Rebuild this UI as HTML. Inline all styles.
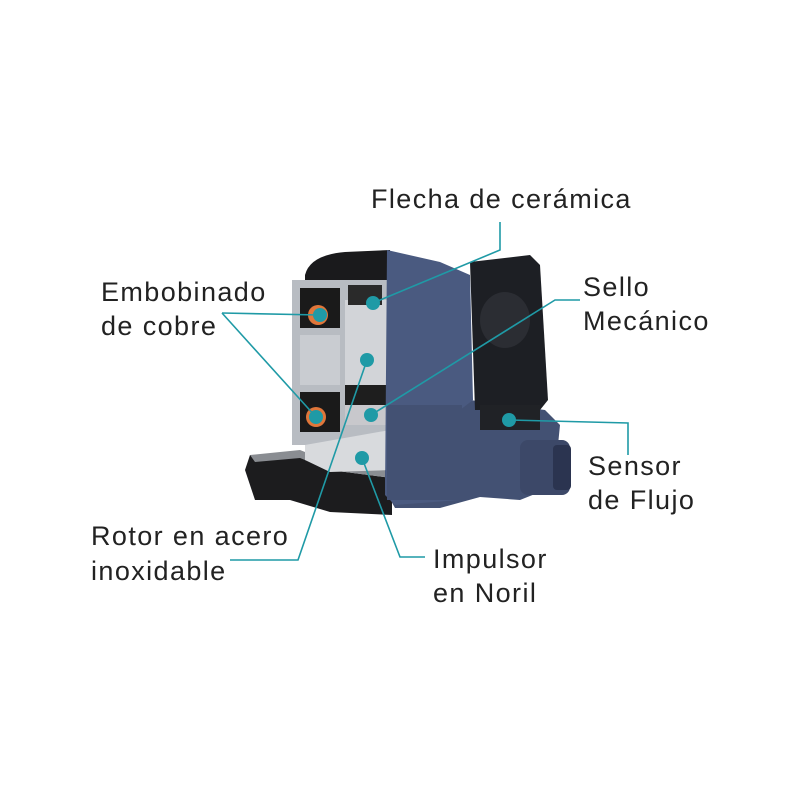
<!DOCTYPE html>
<html><head><meta charset="utf-8"><style>
html,body{margin:0;padding:0;background:#fff;}
svg{display:block}
text{font-family:"Liberation Sans",sans-serif;font-size:27px;fill:#222;letter-spacing:1.4px;}
</style></head><body>
<svg width="800" height="800" viewBox="0 0 800 800">
<!-- black pipe bottom-left -->
<path d="M250 455 L300 455 L330 470 L392 478 L392 515 L330 512 L290 500 L255 500 L245 470 Z" fill="#1c1c1e"/>
<path d="M250 455 L300 450 L330 462 L392 470 L392 478 L330 470 L300 458 L255 462 Z" fill="#8a8d92"/>
<!-- blue bottom housing -->
<path d="M385 405 L470 400 L545 410 L560 425 L558 445 L545 450 L545 490 L520 500 L480 497 L440 508 L395 508 L385 490 Z" fill="#435173"/>
<rect x="520" y="440" width="50" height="55" rx="8" fill="#3c4868"/>
<rect x="553" y="445" width="18" height="45" rx="4" fill="#2b3450"/>
<!-- black box right -->
<path d="M470 262 L530 255 L540 265 L548 400 L540 410 L475 410 Z" fill="#1d1f24"/>
<ellipse cx="505" cy="320" rx="25" ry="28" fill="#2b2d33"/>
<rect x="480" y="405" width="60" height="25" fill="#202226"/>
<!-- dark top -->
<path d="M305 275 Q310 255 345 252 L390 250 L390 290 L305 290 Z" fill="#1a1a1c"/>
<!-- cutaway gray frame -->
<rect x="292" y="280" width="98" height="165" fill="#b8bcc2"/>
<rect x="300" y="288" width="40" height="40" fill="#1a1a1a"/>
<rect x="300" y="392" width="40" height="40" fill="#1a1a1a"/>
<circle cx="318" cy="315" r="10" fill="#e0763a"/>
<circle cx="316" cy="417" r="10" fill="#e0763a"/>
<rect x="300" y="335" width="40" height="50" fill="#c9ccd1"/>
<rect x="345" y="300" width="42" height="105" fill="#d2d4d8"/>
<rect x="348" y="285" width="34" height="20" fill="#2a2a2a"/>
<rect x="345" y="385" width="42" height="20" fill="#1e1e1e"/>
<rect x="345" y="405" width="42" height="20" fill="#c8c8cc"/>
<!-- impeller -->
<path d="M305 445 L390 430 L392 470 L330 472 L305 460 Z" fill="#d8dadd"/>
<!-- blue panel -->
<path d="M387 250 L440 262 L470 275 L473 400 L460 410 L460 500 L395 505 L385 495 Z" fill="#4a5a80"/>
<rect x="387" y="405" width="75" height="95" fill="#435173"/>
<!-- connectors -->
<g stroke="#1f9aa6" stroke-width="1.6" fill="none">
<polyline points="500,222 500,250 373,303"/>
<polyline points="222,313 320,315"/>
<polyline points="222,313 316,417"/>
<polyline points="580,300 555,300 371,415"/>
<polyline points="509,420 628,423 628,455"/>
<polyline points="230,560 298,560 367,360"/>
<polyline points="425,557 400,557 362,458"/>
</g>
<g fill="#1f9aa6">
<circle cx="373" cy="303" r="7"/>
<circle cx="320" cy="315" r="7"/>
<circle cx="316" cy="417" r="7"/>
<circle cx="367" cy="360" r="7"/>
<circle cx="371" cy="415" r="7"/>
<circle cx="509" cy="420" r="7"/>
<circle cx="362" cy="458" r="7"/>
</g>
<text x="371" y="208">Flecha de cerámica</text>
<text x="101" y="301">Embobinado</text>
<text x="101" y="335">de cobre</text>
<text x="583" y="296">Sello</text>
<text x="583" y="330">Mecánico</text>
<text x="588" y="475">Sensor</text>
<text x="588" y="509">de Flujo</text>
<text x="91" y="545">Rotor en acero</text>
<text x="91" y="580">inoxidable</text>
<text x="433" y="568">Impulsor</text>
<text x="433" y="602">en Noril</text>
</svg>
</body></html>
